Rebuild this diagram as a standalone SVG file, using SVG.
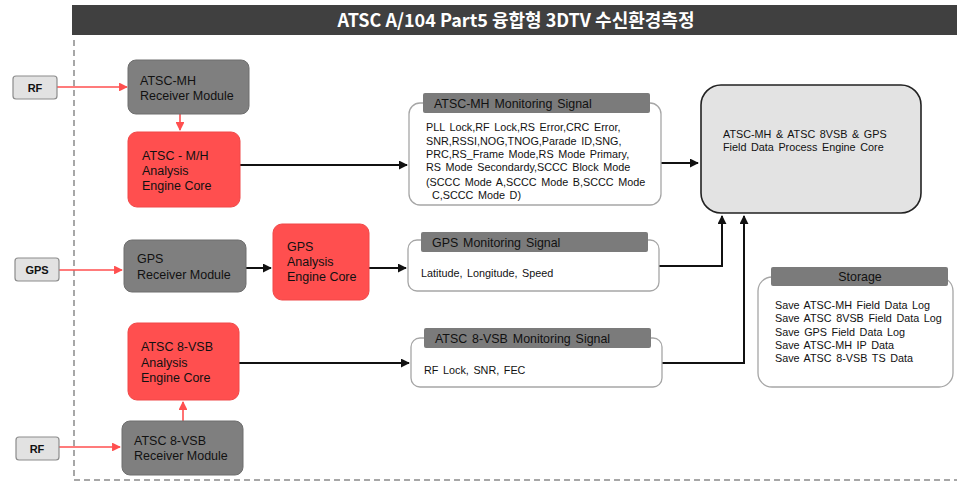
<svg xmlns="http://www.w3.org/2000/svg" width="957" height="482" viewBox="0 0 957 482">
<defs>
<style>
text{font-family:"Liberation Sans",Arial,sans-serif;fill:#111}
.lbl{font-size:12.5px}
.sm{font-size:10.8px;word-spacing:1.6px}
.hd{font-size:12.4px;word-spacing:1.5px}
.gray{fill:#7f7f7f;stroke:#6e6e6e;stroke-width:1}
.red{fill:#ff4f4f;stroke:#f04848;stroke-width:1}
.in{fill:#e2e2e2;stroke:#8c8c8c;stroke-width:1.2}
.mon{fill:#fff;stroke:#a6a6a6;stroke-width:1.3}
.bar{fill:#7b7b7b}
.ra{stroke:#ff4f4f;stroke-width:1.6;fill:none;marker-end:url(#mr)}
.ba{stroke:#111;stroke-width:2;fill:none;marker-end:url(#mb)}
</style>
<marker id="mr" viewBox="0 0 10 10" refX="9" refY="5" markerWidth="5.5" markerHeight="5.5" orient="auto" markerUnits="strokeWidth"><path d="M0,0 L10,5 L0,10 z" fill="#ff4f4f"/></marker>
<marker id="mb" viewBox="0 0 10 10" refX="9" refY="5" markerWidth="4.5" markerHeight="4.5" orient="auto" markerUnits="strokeWidth"><path d="M0,0 L10,5 L0,10 z" fill="#111"/></marker>
</defs>
<rect width="957" height="482" fill="#fff"/>
<g id="frame">
<rect x="72" y="5" width="885" height="30" fill="#404040"/>
<text x="516" y="27" text-anchor="middle" style="font-family:'Noto Sans CJK KR','Noto Sans',sans-serif;font-size:18px;font-weight:bold;fill:#fff">ATSC A/104 Part5 융합형 3DTV 수신환경측정</text>
<path d="M74,40 V480 H957" fill="none" stroke="#8a8a8a" stroke-width="1.5" stroke-dasharray="6,4"/>
</g>
<g id="connectors">
<path class="ra" d="M57,87 H127"/>
<path class="ra" d="M180,114 V130"/>
<path class="ba" d="M240,165 H407"/>
<path class="ba" d="M661,163 H698"/>
<path class="ra" d="M59,270 H122"/>
<path class="ba" d="M246,268 H271"/>
<path class="ba" d="M369,268 H406"/>
<path class="ba" d="M659,266 H722 V216"/>
<path class="ra" d="M59,447 H120"/>
<path class="ra" d="M183,421 V402"/>
<path class="ba" d="M239,363 H409"/>
<path class="ba" d="M662,363 H744 V216"/>
</g>
<g id="rf1"><rect class="in" x="13" y="76" width="44" height="23" rx="3"/><text x="35" y="92" text-anchor="middle" style="font-size:11px;font-weight:bold">RF</text></g>
<g id="atscmh-rx"><rect class="gray" x="128" y="60" width="121" height="54" rx="8"/><text class="lbl" x="140" y="85">ATSC-MH</text><text class="lbl" x="140" y="100">Receiver Module</text></g>
<g id="atscmh-engine"><rect class="red" x="128" y="132" width="112" height="75" rx="9"/><text class="lbl" x="142" y="160">ATSC - M/H</text><text class="lbl" x="142" y="175">Analysis</text><text class="lbl" x="142" y="190">Engine Core</text></g>
<g id="atscmh-mon"><rect class="mon" x="409" y="103" width="252" height="102" rx="11"/><rect class="bar" x="423" y="93" width="227" height="20" rx="2"/><text class="hd" x="434" y="108">ATSC-MH Monitoring Signal</text>
<text class="sm" x="426" y="131">PLL Lock,RF Lock,RS Error,CRC Error,</text>
<text class="sm" x="426" y="145">SNR,RSSI,NOG,TNOG,Parade ID,SNG,</text>
<text class="sm" x="426" y="158">PRC,RS_Frame Mode,RS Mode Primary,</text>
<text class="sm" x="426" y="171">RS Mode Secondardy,SCCC Block Mode</text>
<text class="sm" x="426" y="186">(SCCC Mode A,SCCC Mode B,SCCC Mode</text>
<text class="sm" x="432" y="199">C,SCCC Mode D)</text></g>
<g id="core"><rect x="701" y="85" width="220" height="128" rx="20" fill="#e3e3e3" stroke="#222" stroke-width="1.6"/><text class="sm" x="723" y="138">ATSC-MH &amp; ATSC 8VSB &amp; GPS</text><text class="sm" x="723" y="151">Field Data Process Engine Core</text></g>
<g id="gps-in"><rect class="in" x="15" y="258" width="44" height="23" rx="3"/><text x="37" y="274" text-anchor="middle" style="font-size:11px;font-weight:bold">GPS</text></g>
<g id="gps-rx"><rect class="gray" x="124" y="240" width="122" height="52" rx="8"/><text class="lbl" x="137" y="263">GPS</text><text class="lbl" x="137" y="279">Receiver Module</text></g>
<g id="gps-engine"><rect class="red" x="273" y="224" width="96" height="76" rx="9"/><text class="lbl" x="287" y="251">GPS</text><text class="lbl" x="287" y="266">Analysis</text><text class="lbl" x="287" y="281">Engine Core</text></g>
<g id="gps-mon"><rect class="mon" x="408" y="240" width="251" height="51" rx="9"/><rect class="bar" x="421" y="232" width="227" height="20" rx="2"/><text class="hd" x="432" y="247">GPS Monitoring Signal</text><text class="sm" x="421" y="277">Latitude,  Longitude,  Speed</text></g>
<g id="vsb-engine"><rect class="red" x="128" y="323" width="111" height="77" rx="9"/><text class="lbl" x="141" y="351">ATSC  8-VSB</text><text class="lbl" x="141" y="367">Analysis</text><text class="lbl" x="141" y="382">Engine Core</text></g>
<g id="vsb-mon"><rect class="mon" x="411" y="338" width="251" height="49" rx="9"/><rect class="bar" x="424" y="328" width="227" height="20" rx="2"/><text class="hd" x="435" y="343">ATSC 8-VSB Monitoring Signal</text><text class="sm" x="424" y="374">RF Lock, SNR, FEC</text></g>
<g id="storage"><rect class="mon" x="758" y="277" width="195" height="110" rx="14"/><rect class="bar" x="771" y="267" width="177" height="19" rx="2"/><text class="hd" x="860" y="281" text-anchor="middle">Storage</text>
<text class="sm" x="775" y="309">Save ATSC-MH Field Data Log</text>
<text class="sm" x="775" y="322">Save ATSC 8VSB Field Data Log</text>
<text class="sm" x="775" y="336">Save GPS Field Data Log</text>
<text class="sm" x="775" y="349">Save ATSC-MH IP Data</text>
<text class="sm" x="775" y="362">Save ATSC 8-VSB TS Data</text></g>
<g id="rf2"><rect class="in" x="16" y="437" width="43" height="23" rx="3"/><text x="37" y="453" text-anchor="middle" style="font-size:11px;font-weight:bold">RF</text></g>
<g id="vsb-rx"><rect class="gray" x="122" y="421" width="121" height="54" rx="8"/><text class="lbl" x="134" y="445">ATSC 8-VSB</text><text class="lbl" x="134" y="460">Receiver Module</text></g>
</svg>
